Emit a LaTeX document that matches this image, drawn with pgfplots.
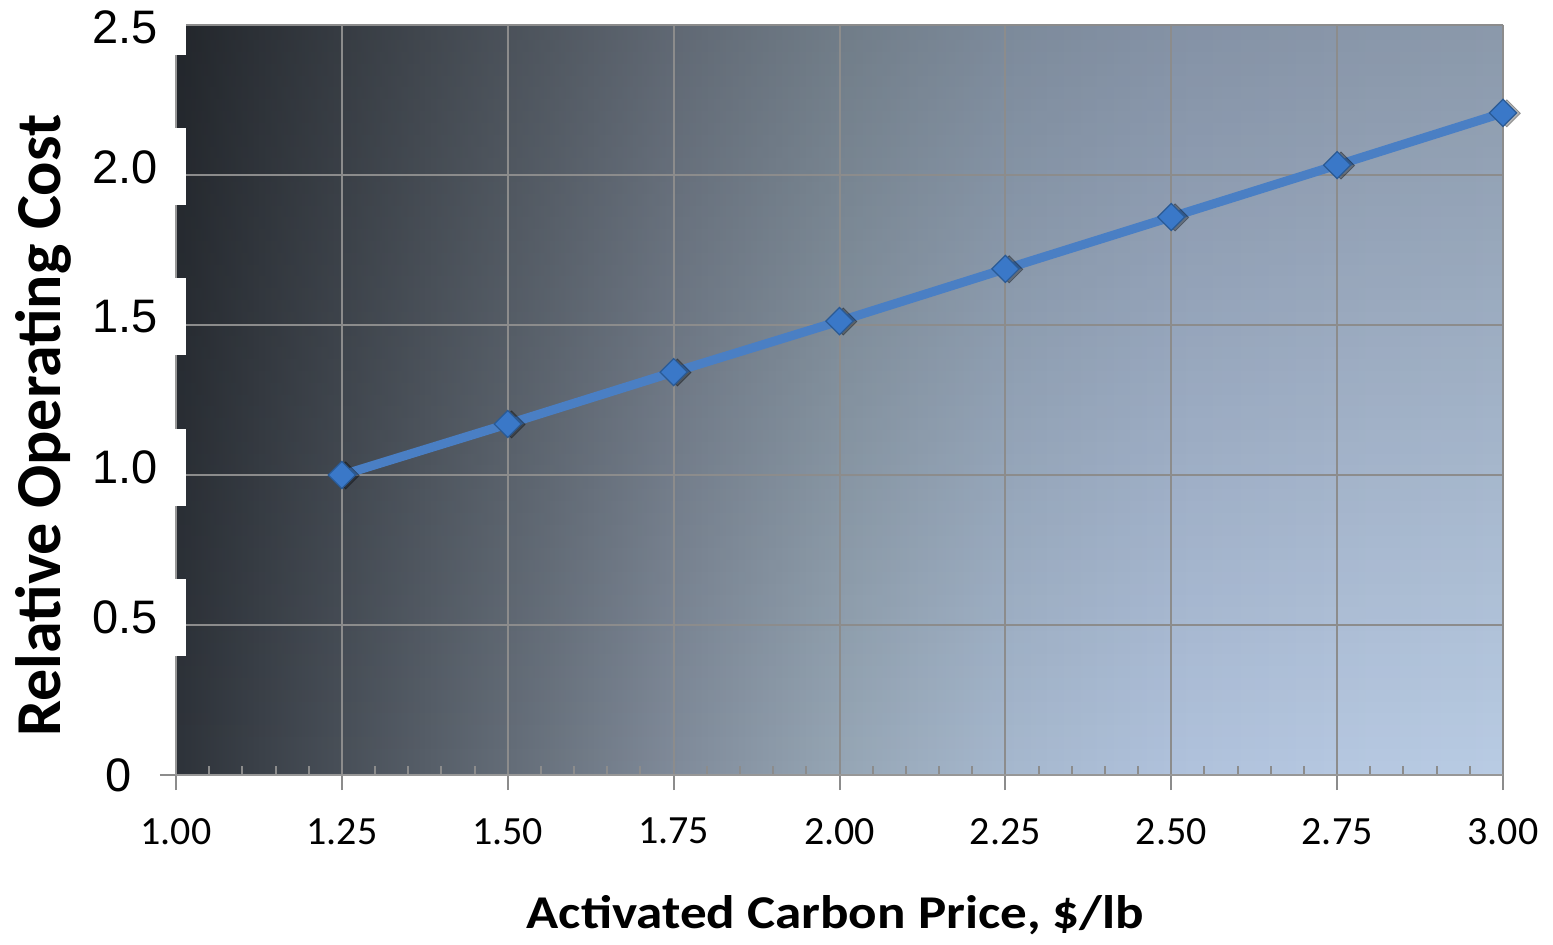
\documentclass[border=0pt]{standalone}
\usepackage{fontspec}
\setmainfont{Carlito}
\newfontfamily\arialf{Liberation Sans}
\usepackage{graphicx}
\usepackage{pgfplots}
\pgfplotsset{compat=1.18}
\usetikzlibrary{fadings}
\definecolor{gridc}{HTML}{8C8C8C}
\definecolor{lineblue}{HTML}{4A7FC4}
\definecolor{markblue}{HTML}{3A78C8}
\definecolor{markedge}{HTML}{2A5A95}
\definecolor{g0}{HTML}{2E333A}
\definecolor{g1}{HTML}{495059}
\definecolor{g2}{HTML}{646D78}
\definecolor{g3}{HTML}{808B9A}
\definecolor{g4}{HTML}{96A6B5}
\definecolor{g5}{HTML}{A6B8CE}
\definecolor{g6}{HTML}{B0C2DC}
\definecolor{g7}{HTML}{B6C8E1}
\definecolor{g8}{HTML}{B9CCE4}
\pgfdeclarehorizontalshading{bgshade}{100bp}{color(0bp)=(g0); color(25bp)=(g0);
  color(31.25bp)=(g1); color(37.5bp)=(g2); color(43.75bp)=(g3); color(50bp)=(g4);
  color(56.25bp)=(g5); color(62.5bp)=(g6); color(68.75bp)=(g7); color(75bp)=(g8); color(100bp)=(g8)}
\tikzfading[name=fadedown, top color=transparent!0, bottom color=transparent!100]
\begin{document}
\begin{tikzpicture}
\begin{axis}[
  name=ax,
  set layers,
  scale only axis,
  width=663.5pt, height=375pt,
  xmin=1, xmax=3, ymin=0, ymax=2.5,
  clip=false,
  axis x line=bottom, axis y line=left,
  axis line style={draw=gridc!90, line width=1pt, -},
  grid=major,
  major grid style={draw=gridc, line width=1pt},
  xtick={1,1.25,1.5,1.75,2,2.25,2.5,2.75,3},
  xticklabels={1.00,1.25,1.50,1.75,2.00,2.25,2.50,2.75,3.00},
  minor x tick num=4,
  xtick align=outside,
  major tick length=7.5pt,
  minor tick length=4.5pt,
  x tick style={draw=gridc, line width=1pt},
  minor x tick style={yshift=4.5pt},
  xticklabel style={font=\fontsize{20}{20}\selectfont, yshift=-10.5pt},
  ytick={0.5,1,1.5,2,2.5},
  yticklabels={0.5,1.0,1.5,2.0,{\raisebox{-5pt}[\height][\depth]{2.5}}},
  y tick style={draw=none},
  yticklabel style={font=\arialf\fontsize{23.5}{23.5}\selectfont, fill=white, anchor=east,
     inner xsep=14pt, minimum height=38.5pt, xshift=9pt, yshift=4pt},
  extra y ticks={0},
  extra y tick labels={0},
  extra y tick style={grid=none, y tick style={draw=gridc, line width=1pt},
     ytick align=outside, major tick length=8pt,
     yticklabel style={fill=none, xshift=-9pt, yshift=-4pt}},
  xlabel={\scalebox{1.13}[1]{\bfseries Activated Carbon Price, \$/lb}},
  xlabel style={font=\fontsize{23.5}{23.5}\selectfont, at={(axis description cs:0.497,-0.1867)}, anchor=center},
  ylabel={\bfseries Relative Operating Cost},
  ylabel style={font=\fontsize{32}{32}\selectfont, at={(axis description cs:-0.1,0.466)}, anchor=center},
]
\begin{pgfonlayer}{axis background}
  \fill[shading=bgshade] (rel axis cs:0,0) rectangle (rel axis cs:1,1);
  \fill[black, opacity=0.25, path fading=fadedown] (rel axis cs:0,0) rectangle (rel axis cs:1,1);
\end{pgfonlayer}
\addplot[color=lineblue, line width=4.5pt, no markers] coordinates {
  (1.25,1.000) (1.50,1.170) (1.75,1.343) (2.00,1.513)
  (2.25,1.687) (2.50,1.860) (2.75,2.033) (3.00,2.207)
};
\addplot[only marks, mark=square*, mark size=4.8pt,
  mark options={rotate=45, fill=black, draw=none, opacity=0.3, xshift=1.2pt, yshift=-1.5pt}] coordinates {
  (1.25,1.000) (1.50,1.170) (1.75,1.343) (2.00,1.513)
  (2.25,1.687) (2.50,1.860) (2.75,2.033) (3.00,2.207)
};
\addplot[only marks, mark=square*, mark size=4.8pt,
  mark options={rotate=45, fill=markblue, draw=markedge, line width=0.6pt}] coordinates {
  (1.25,1.000) (1.50,1.170) (1.75,1.343) (2.00,1.513)
  (2.25,1.687) (2.50,1.860) (2.75,2.033) (3.00,2.207)
};
\end{axis}
\pgfresetboundingbox
\path ([shift={(-88pt,-84.5pt)}]ax.south west) rectangle ([shift={(25pt,12.5pt)}]ax.north east);
\end{tikzpicture}
\end{document}
